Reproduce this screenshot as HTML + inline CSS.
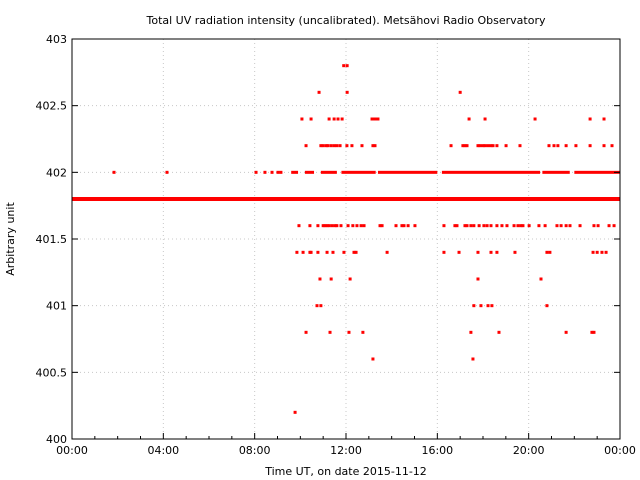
<!DOCTYPE html>
<html><head><meta charset="utf-8"><style>
body{margin:0;background:#fff}
svg{display:block;font-family:"DejaVu Sans","Liberation Sans",sans-serif}
</style></head><body>
<svg id="chart" width="640" height="480" xmlns="http://www.w3.org/2000/svg">
<text x="346" y="24" font-size="11" text-anchor="middle">Total UV radiation intensity (uncalibrated). Metsähovi Radio Observatory</text>
<text x="346" y="475" font-size="11" text-anchor="middle">Time UT, on date 2015-11-12</text>
<text x="14" y="239" font-size="11" text-anchor="middle" transform="rotate(-90 14 239)">Arbitrary unit</text>
<g id="grid"></g><g id="marks"></g><g id="axes"></g>
</svg>
<script>
const yTicks=[400,400.5,401,401.5,402,402.5,403];
const yTickLabels=["400","400.5","401","401.5","402","402.5","403"];
const xTicks=[0,4,8,12,16,20,24];
const xTickLabels=["00:00","04:00","08:00","12:00","16:00","20:00","00:00"];
const baseLevel=401.8;
const baseRange=[0,24];
const level402Dense=[[9.6,9.9],[10.2,10.6],[10.9,11.6],[11.8,13.3],[13.4,16.0],[16.2,20.5],[20.6,21.8],[22.0,24]];
const lv402=[1.84,4.16,8.06,8.45,8.76,9.02,9.15];
const lv4028=[11.9,12.05];
const lv4026=[10.82,12.05,17.0];
const lv4024=[10.07,10.47,11.26,11.48,11.65,11.83,13.14,13.27,13.4,17.39,18.09,20.28,22.69,23.3];
const lv4022=[10.25,10.9,11.0,11.13,11.21,11.35,11.48,11.6,11.74,12.04,12.26,12.7,13.18,13.27,16.6,17.12,17.21,17.3,17.78,17.87,18.0,18.09,18.22,18.35,18.44,18.61,19.01,19.62,20.89,21.11,21.28,21.64,22.07,22.69,23.3,23.65];
const lv4016=[9.94,10.42,10.77,11,11.08,11.17,11.26,11.39,11.52,11.6,11.78,12.09,12.3,12.48,12.66,12.79,13.49,13.58,14.19,14.45,14.54,14.72,15.02,16.29,16.77,16.86,17.21,17.3,17.47,17.6,17.83,18.04,18.18,18.35,18.61,18.83,19.05,19.36,19.53,19.66,19.75,20.02,20.45,20.72,21.24,21.42,21.64,21.81,22.25,22.86,23.04,23.52,23.74];
const lv4014=[9.85,10.12,10.42,10.47,10.77,11.17,11.43,11.91,12.35,12.44,13.8,16.29,16.95,17.78,18.35,18.61,19.4,20.8,20.93,22.82,23.0,23.21,23.39];
const lv4012=[10.86,11.35,12.18,17.78,20.54];
const lv401=[10.73,10.9,17.6,17.91,18.22,18.39,20.8];
const lv4008=[10.25,11.3,12.13,12.74,17.47,18.7,21.64,22.77,22.86];
const lv4006=[13.18,17.56];
const lv4002=[9.77];
const scatter=[[402,lv402],[402.8,lv4028],[402.6,lv4026],[402.4,lv4024],[402.2,lv4022],[401.6,lv4016],[401.4,lv4014],[401.2,lv4012],[401,lv401],[400.8,lv4008],[400.6,lv4006],[400.2,lv4002]];
const L=72,R=620,T=39,B=439;
const xs=h=>L+(h-0)/24*(R-L);
const ys=v=>B-(v-400)/3*(B-T);
const NS="http://www.w3.org/2000/svg";
function mk(p,t,a){const e=document.createElementNS(NS,t);for(const k in a)e.setAttribute(k,a[k]);p.appendChild(e);return e;}
const grid=document.getElementById('grid'),marks=document.getElementById('marks'),axes=document.getElementById('axes');
yTicks.forEach((v,i)=>{
 if(i>0&&i<yTicks.length-1){const g=mk(grid,'line',{x1:L,x2:R,y1:ys(v),y2:ys(v),stroke:'#c8c8c8','stroke-dasharray':'1,3'});
 
 }
 const t=mk(axes,'text',{x:L-5,y:ys(v)+4,'font-size':11,'text-anchor':'end'});t.textContent=yTickLabels[i];
 
 
 mk(axes,'line',{x1:L,x2:L+6,y1:ys(v),y2:ys(v),stroke:'#000'});
 mk(axes,'line',{x1:R,x2:R-6,y1:ys(v),y2:ys(v),stroke:'#000'});
});
xTicks.forEach((h,i)=>{
 if(i>0&&i<xTicks.length-1){const g=mk(grid,'line',{x1:xs(h),x2:xs(h),y1:T,y2:B,stroke:'#c8c8c8','stroke-dasharray':'1,3'});
 
 }
 const t=mk(axes,'text',{x:xs(h),y:B+15,'font-size':11,'text-anchor':'middle'});t.textContent=xTickLabels[i];
 
 
 mk(axes,'line',{x1:xs(h),x2:xs(h),y1:B,y2:B-6,stroke:'#000'});
});
for(let h=1;h<24;h++){if(h%4)mk(axes,'line',{x1:xs(h),x2:xs(h),y1:B,y2:B-3,stroke:'#000'});}
const box=mk(axes,'rect',{x:L,y:T,width:R-L,height:B-T,fill:'none',stroke:'#000'});


const base=mk(marks,'rect',{x:xs(baseRange[0]),y:ys(baseLevel)-2,width:xs(baseRange[1])-xs(baseRange[0]),height:4,fill:'#ff0000'});


level402Dense.forEach(s=>{
 const r=mk(marks,'rect',{x:xs(s[0]),y:ys(402)-1.5,width:xs(s[1])-xs(s[0]),height:3,fill:'#ff0000'});
 
 
});
scatter.forEach(([lv,arr])=>arr.forEach(h=>{
 const c=mk(marks,'rect',{x:xs(h)-1.5,y:ys(lv)-1.5,width:3,height:3,fill:'#ff0000'});
 
 
}));
</script>
</body></html>
